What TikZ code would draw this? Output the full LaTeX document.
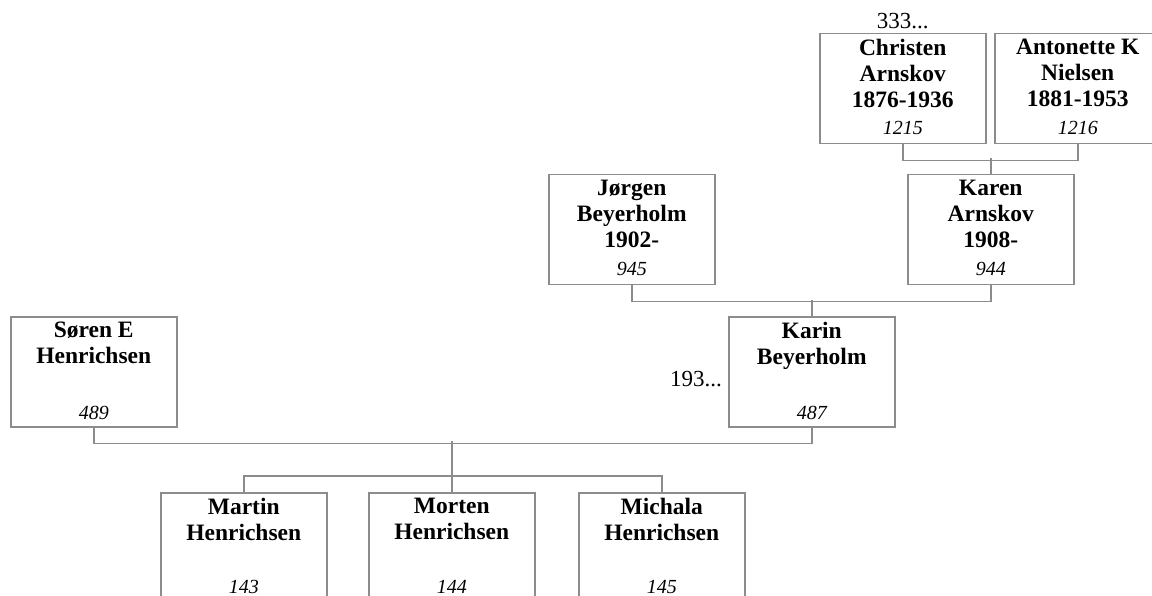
\documentclass[tikz,border=0pt]{standalone}
\usepackage{fontspec}
\setmainfont{Liberation Serif}
\usetikzlibrary{positioning}

\definecolor{linegray}{RGB}{140,140,140}

\tikzset{
  box/.style={draw=linegray, line width=1.5pt, minimum width=166pt, minimum height=110pt, anchor=north west, inner sep=0pt},
  who/.style={anchor=north, align=center, inner sep=0pt, font=\bfseries\fontsize{23.5}{26}\selectfont},
  idno/.style={anchor=south, inner sep=0pt, font=\itshape\fontsize{20}{22}\selectfont},
  note/.style={inner sep=0pt, font=\fontsize{23}{26}\selectfont},
  link/.style={draw=linegray, line width=1.5pt},
}

\begin{document}
\begin{tikzpicture}[x=1pt,y=-1pt]

\useasboundingbox (0,0) rectangle (1152,596);
\clip (0,0) rectangle (1152,596);

% Great grandparents
\node[box] (christen) at (819,33) {};
\node[who, below=6pt of christen.north] (christen-n) {Christen\\Arnskov\\1876-1936};
\node[idno, above=10pt of christen.south] (christen-id) {1215};
\node[note, above=4pt of christen] (christen-more) {333...};

\node[box] (antonette) at (994,33) {};
\node[who, below=6pt of antonette.north] (antonette-n) {Antonette K\\Nielsen\\1881-1953};
\node[idno, above=10pt of antonette.south] (antonette-id) {1216};

% Grandparents
\node[box] (jorgen) at (548,174) {};
\node[who, below=6pt of jorgen.north] (jorgen-n) {Jørgen\\Beyerholm\\1902-};
\node[idno, above=10pt of jorgen.south] (jorgen-id) {945};

\node[box] (karen) at (907,174) {};
\node[who, below=6pt of karen.north] (karen-n) {Karen\\Arnskov\\1908-};
\node[idno, above=10pt of karen.south] (karen-id) {944};

% Parents
\node[box] (soren) at (10,316) {};
\node[who, below=6pt of soren.north] (soren-n) {Søren E\\Henrichsen};
\node[idno, above=8pt of soren.south] (soren-id) {489};

\node[box] (karin) at (728,316) {};
\node[who, below=6pt of karin.north] (karin-n) {Karin\\Beyerholm};
\node[idno, above=8pt of karin.south] (karin-id) {487};
\node[note, anchor=base east] (karin-more) at (722,386) {193...};

% Children
\node[box] (martin) at (160,492) {};
\node[who, below=6pt of martin.north] (martin-n) {Martin\\Henrichsen};
\node[idno, above=10pt of martin.south] (martin-id) {143};

\node[box] (morten) at (368,492) {};
\node[who, below=6pt of morten.north] (morten-n) {Morten\\Henrichsen};
\node[idno, above=10pt of morten.south] (morten-id) {144};

\node[box] (michala) at (578,492) {};
\node[who, below=6pt of michala.north] (michala-n) {Michala\\Henrichsen};
\node[idno, above=10pt of michala.south] (michala-id) {145};

% Family lines
\draw[link] (christen.south) -- ++(0,16) -| (antonette.south);
\draw[link] (karen.north) -- ++(0,-16);

\draw[link] (jorgen.south) -- ++(0,16) -| (karen.south);
\draw[link] (karin.north) -- ++(0,-16);

\draw[link] (soren.south) -- ++(0,16) -| (karin.south);
\draw[link] (martin.north) -- ++(0,-16) -| (michala.north);
\draw[link] (morten.north) -- ++(0,-51);

\end{tikzpicture}
\end{document}
